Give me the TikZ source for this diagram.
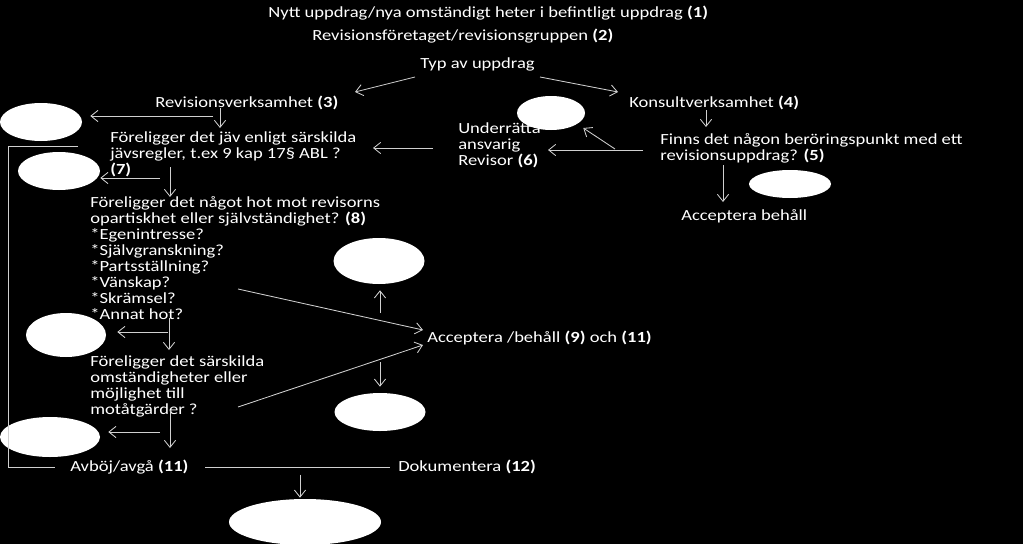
\documentclass[tikz,border=0pt]{standalone}
\usepackage{fontspec}
\setmainfont{Carlito}[FakeStretch=1.2]
\usepackage{tikz}
\usetikzlibrary{shapes.geometric, arrows.meta, calc}
\definecolor{linegray}{HTML}{D0D0D0}
\def\pxl{0.025cm}

\begin{document}
\begin{tikzpicture}[x=0.025cm, y=-0.025cm,
  txt/.style={text=white, inner sep=0pt, align=left, font=\fontsize{11}{11.4}\selectfont},
  blob/.style 2 args={ellipse, fill=white, inner sep=0pt, minimum width=#1*\pxl, minimum height=#2*\pxl},
  arr/.style={-{Straight Barb[length=5pt, width=8pt]}, draw=linegray, line width=0.6pt},
  plain/.style={draw=linegray, line width=0.6pt}
]
  \fill[black] (0,0) rectangle (1023,544);

  % heading
  \node[txt, anchor=west] (head) at (268,13) {Nytt uppdrag/nya omständigt heter i befintligt uppdrag \textbf{(1)}};
  \node[txt, anchor=west] (firm) at (312,36) {Revisionsföretaget/revisionsgruppen \textbf{(2)}};
  \node[txt, anchor=west] (typ) at (420,64) {Typ av uppdrag};
  \node[txt, anchor=west] (rev) at (155,103) {Revisionsverksamhet \textbf{(3)}};
  \node[txt, anchor=west] (kon) at (629,103) {Konsultverksamhet \textbf{(4)}};

  % revision branch
  \node[txt, anchor=north west] (jav) at (110,131) {Föreligger det jäv enligt särskilda\\jävsregler, t.ex 9 kap 17§ ABL ?\\\textbf{(7)}};
  \node[txt, anchor=north west] (hot) at (90,196) {Föreligger det något hot mot revisorns\\opartiskhet eller självständighet? \textbf{(8)}\\*Egenintresse?\\*Självgranskning?\\*Partsställning?\\*Vänskap?\\*Skrämsel?\\*Annat hot?};
  \node[txt, anchor=north west] (sar) at (90,355) {Föreligger det särskilda\\omständigheter eller\\möjlighet till\\motåtgärder ?};
  \node[txt, anchor=west] (acc) at (427,338) {Acceptera /behåll \textbf{(9)} och \textbf{(11)}};
  \node[txt, anchor=west] (avb) at (70,467) {Avböj/avgå \textbf{(11)}};
  \node[txt, anchor=west] (dok) at (398,467) {Dokumentera \textbf{(12)}};

  % consulting branch
  \node[txt, anchor=north west] (und) at (458,122) {Underrätta\\ansvarig\\Revisor \textbf{(6)}};
  \node[txt, anchor=north west] (fin) at (660,133) {Finns det någon beröringspunkt med ett\\revisionsuppdrag? \textbf{(5)}};
  \node[txt, anchor=west] (accb) at (681,216) {Acceptera behåll};

  % blank ellipses
  \node[blob={82}{38}] (e1) at (41,122) {};
  \node[blob={82}{38}] (e2) at (59,171) {};
  \node[blob={80}{44}] (e3) at (66,335) {};
  \node[blob={100}{40}] (e4) at (50,437) {};
  \node[blob={68}{34}] (e5) at (551,113) {};
  \node[blob={82}{28}] (e6) at (790,184) {};
  \node[blob={91}{46}] (e7) at (379,261) {};
  \node[blob={91}{38}] (e8) at (380,412) {};
  \node[blob={152}{46}] (e9) at (305,522) {};

  \draw[arr] ($(typ.west)+(-5,13)$) -- ($(rev.west)+(200,-11)$);
  \draw[arr] ($(typ.west)+(120,13)$) -- ($(kon.west)+(-11,-11)$);

  \draw[arr] ($(rev.west)+(58,13)$) -- ($(e1.east)+(8,-6)$);
  \draw[arr] ($(rev.west)+(65,5)$) -- ($(jav.north west)+(110,-3)$);
  \draw[arr] ($(jav.north west)+(50,47)$) -- ($(e2.east)+(0,7)$);
  \draw[arr] ($(jav.north west)+(60,36)$) -- ($(hot.north west)+(80,1)$);
  \draw[plain] ($(jav.north west)+(-32,15)$) -- ++(-70,0) |- ($(avb.west)+(-15,0)$);

  \draw[arr] ($(und.north west)+(-25,26)$) -- ($(jav.north west)+(263,17)$);
  \draw[arr] ($(fin.north west)+(-17,17)$) -- ($(und.north west)+(90,28)$);
  \draw[arr] ($(fin.north west)+(-45,16)$) -- ($(e5.east)+(-2,15)$);
  \draw[arr] ($(kon.west)+(77,7)$) -- ($(fin.north west)+(46,-6)$);
  \draw[arr] ($(fin.north west)+(63,32)$) -- ($(accb.west)+(42,-14)$);

  \draw[arr] ($(hot.north west)+(148,93)$) -- ($(acc.west)+(-4,-8)$);
  \draw[arr] ($(sar.north west)+(148,52)$) -- ($(acc.west)+(-4,7)$);
  \draw[arr] ($(acc.west)+(-47,-25)$) -- ($(e7.south)+(1,6)$);
  \draw[arr] ($(acc.west)+(-47,24)$) -- ($(e8.north)+(0,-6)$);

  \draw[arr] ($(hot.north west)+(78,136)$) -- ($(e3.east)+(11,-3)$);
  \draw[arr] ($(hot.north west)+(79,122)$) -- ($(sar.north west)+(79,-5)$);
  \draw[arr] ($(sar.north west)+(70,77)$) -- ($(e4.east)+(8,-5)$);
  \draw[arr] ($(sar.north west)+(80,55)$) -- ($(avb.west)+(100,-19)$);

  \draw[plain] ($(avb.west)+(135,0)$) -- ($(dok.west)+(-8,0)$);
  \draw[arr] ($(e9.north)+(-5,-24)$) -- ($(e9.north)+(-5,-1)$);
\end{tikzpicture}
\end{document}
